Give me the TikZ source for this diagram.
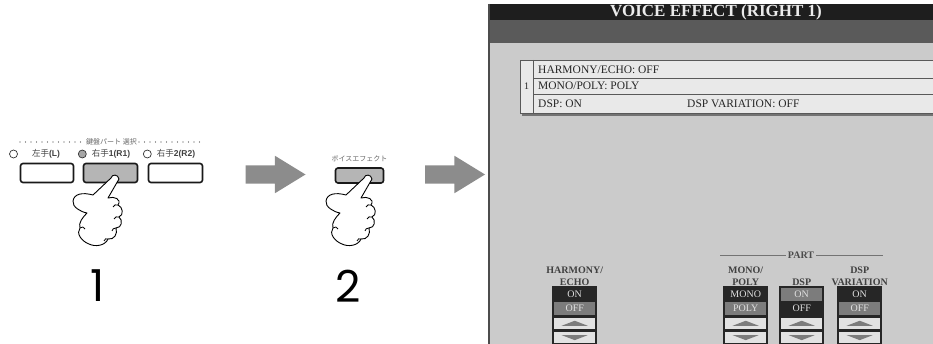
\documentclass[tikz,border=0pt]{standalone}
\usepackage{fontspec}
\setmainfont{Liberation Serif}
\newfontfamily\cjk{Noto Sans CJK JP}
\newfontfamily\labfont{Liberation Sans}
\newfontfamily\stepfont{Poppins}
\usepackage{xcolor}
\usepackage{tikz}
\usetikzlibrary{positioning, shapes.arrows, calc}

\definecolor{scrbg}{HTML}{CBCBCB}
\definecolor{scrtop}{HTML}{1E1E1E}
\definecolor{scrband}{HTML}{5A5A5A}
\definecolor{tblfill}{HTML}{E9E9E9}
\definecolor{keydark}{HTML}{262626}
\definecolor{keygray}{HTML}{7C7C7C}
\definecolor{keylight}{HTML}{E2E2E2}
\definecolor{arrgray}{HTML}{8C8C8C}
\definecolor{btngray}{HTML}{B5B5B5}

\tikzset{
  hand/.pic={
    \draw[fill=white, line width=0.9pt, line join=round]
      (-4,1) .. controls (-3,-3) and (3,-3) .. (4,2)
      -- (-7,21)
      .. controls (-1,19) and (7,22) .. (3,28)
      .. controls (8,30) and (9,38) .. (4,40)
      .. controls (8,43) and (7,51) .. (1,51)
      .. controls (3,57) and (-1,63) .. (-7,62)
      .. controls (-10,69) and (-20,70) .. (-26,67)
      .. controls (-34,64) and (-39,56) .. (-35,51)
      .. controls (-37,46) and (-32,40) .. (-28,36)
      .. controls (-34,35) and (-43,30) .. (-42,24)
      .. controls (-41,17) and (-33,15) .. (-22,18)
      -- cycle;
    % creases of the curled fingers
    \draw[line width=0.8pt] (3,28) .. controls (1,27) and (-1,28) .. (-2,30);
    \draw[line width=0.8pt] (4,40) .. controls (2,39) and (0,40) .. (-1,42);
    \draw[line width=0.8pt] (1,51) .. controls (-1,51) and (-3,52) .. (-3,54);
    \draw[line width=0.8pt] (-7,62) .. controls (-9,61) and (-10,62) .. (-11,64);
    \draw[line width=0.8pt] (-35,51) .. controls (-33,49) and (-31,50) .. (-30,52);
  }
}

\begin{document}
\begin{tikzpicture}[x=1pt, y=-1pt,
    panelbtn/.style={draw=black!90, line width=1.6pt, rounded corners=2.5pt, minimum height=19pt, inner sep=0pt},
    lamp/.style={circle, draw=black!80, fill=white, line width=0.7pt, minimum size=8pt, inner sep=0pt},
    keylabel/.style={font=\cjk\fontsize{8.5}{9}\selectfont, text=black!75, inner sep=1pt},
    dots/.style={black!75, line width=1.1pt, dash pattern=on 0pt off 5.5pt, line cap=round},
    blockarrow/.style={single arrow, fill=arrgray, inner xsep=0pt, inner ysep=9pt, minimum height=60pt, single arrow head extend=9.5pt, single arrow tip angle=63},
    stepnum/.style={font=\stepfont\fontsize{44}{44}\selectfont, inner sep=0pt},
    rowtext/.style={anchor=west, font=\fontsize{11.5}{11.5}\selectfont, text=black!85, inner sep=0pt},
    swrow/.style={minimum width=41pt, minimum height=13pt, inner sep=0pt, font=\fontsize{10}{10}\selectfont, text=black!12},
    swkey/.style={fill=keylight, minimum width=41pt, minimum height=10.5pt, inner sep=0pt},
    swlabel/.style={align=center, font=\bfseries\fontsize{10}{12.5}\selectfont, text=black!75, inner sep=0.5pt}
]
\useasboundingbox (0,0) rectangle (933,344);

% step 1: part select buttons
\node[panelbtn, minimum width=53pt] (btnL) at (47,173) {};
\node[panelbtn, minimum width=54pt, fill=btngray] (btnR1) at (110.5,173) {};
\node[panelbtn, minimum width=54pt] (btnR2) at (175.5,173) {};

\node[keylabel] (labL) at (46,154) {左手\labfont\bfseries(L)};
\node[keylabel] (labR1) at (111,154) {右手\labfont\bfseries1(R1)};
\node[keylabel] (labR2) at (176,154) {右手\labfont\bfseries2(R2)};
\node[lamp, left=13pt of labL] (lampL) {};
\node[lamp, left=4pt of labR1, fill=black!35] (lampR1) {};
\node[lamp, left=4pt of labR2] (lampR2) {};

\node[font=\cjk\fontsize{7}{7}\selectfont, text=black!60, inner sep=2pt] (selhead) at (111.5,142) {鍵盤パート 選択};
\coordinate (dotL) at (20,142);
\coordinate (dotR) at (204,142);
\draw[dots] (dotL) -- (selhead.west);
\draw[dots] (selhead.east) -- (dotR);

\pic at (115,177) {hand};
\node[stepnum] (step1) at (98,286) {1};

% step 2: voice effect button
\node[panelbtn, minimum width=48pt, minimum height=15pt, fill=btngray] (btnVE) at (359.5,175.5) {};
\node[font=\cjk\fontsize{7}{7}\selectfont, text=black!60, above=2pt of btnVE] (veLabel) {ボイスエフェクト};
\pic at (368,177) {hand};
\node[stepnum] (step2) at (348.5,286.5) {2};

% arrows between the steps
\node[blockarrow] (arr1) at (268,174.5) {};
\node[blockarrow] (arr2) at (447.5,174.5) {};

% screen
\fill[scrbg] (488,4) rectangle (933,344);
\fill[scrtop] (488,4) rectangle (933,20);
\fill[scrband] (488,20) rectangle (933,43);
\draw[black!70, line width=2pt] (489,4) -- (489,344);
\node[font=\bfseries\fontsize{17}{17}\selectfont, text=black!8, inner sep=0pt] (title) at (716,12) {VOICE EFFECT (RIGHT 1)};

% part table
\fill[black!55] (522,111) rectangle (933,116);
\draw[fill=tblfill, draw=black!65, line width=0.8pt] (520,60) rectangle (940,113);
\draw[black!65, line width=0.8pt] (533,60) -- (533,113);
\draw[black!65, line width=0.8pt] (533,78) -- (940,78);
\draw[black!65, line width=0.8pt] (533,94) -- (940,94);
\node[font=\fontsize{10}{10}\selectfont, text=black!85, inner sep=0pt] (partNo) at (526.5,86) {1};
\node[rowtext] (rowHarm) at (538,69.5) {HARMONY/ECHO: OFF};
\node[rowtext] (rowMono) at (538,86) {MONO/POLY: POLY};
\node[rowtext] (rowDsp) at (538,103.5) {DSP: ON};
\node[rowtext] (rowVar) at (687,103.5) {DSP VARIATION: OFF};

% part heading
\node[font=\bfseries\fontsize{10}{10}\selectfont, text=black!70, inner sep=2pt] (part) at (801,255) {PART};
\coordinate (partL) at (720,255);
\coordinate (partR) at (883,255);
\draw[black!55, line width=0.8pt] (partL) -- (part.west);
\draw[black!55, line width=0.8pt] (part.east) -- (partR);

% switches
\foreach \x/\ta/\tb/\ca/\cb [count=\i] in {552/ON/OFF/keydark/keygray, 723/MONO/POLY/keydark/keygray, 779/ON/OFF/keygray/keydark, 837/ON/OFF/keydark/keygray} {
  \fill[keydark] (\x,286) rectangle ++(45,60);
  \node[swrow, fill=\ca, anchor=north west] (sw\i-a) at (\x+2,287.5) {\ta};
  \node[swrow, fill=\cb, below=1pt of sw\i-a] (sw\i-b) {\tb};
  \node[swkey, below=2.5pt of sw\i-b] (sw\i-up) {};
  \node[swkey, below=3.5pt of sw\i-up] (sw\i-dn) {};
  \fill[keygray] ($(sw\i-up.center)+(-13,2.5)$) -- ++(26,0) -- ($(sw\i-up.center)+(0,-2.5)$) -- cycle;
  \fill[keygray] ($(sw\i-dn.center)+(-13,-2.5)$) -- ++(26,0) -- ($(sw\i-dn.center)+(0,2.5)$) -- cycle;
}

\node[swlabel, above=1pt of sw1-a] (lbHarm) {HARMONY/\\ECHO};
\node[swlabel, above=1pt of sw2-a] (lbMono) {MONO/\\POLY};
\node[swlabel, above=1pt of sw3-a] (lbDsp) {DSP};
\node[swlabel, above=1pt of sw4-a] (lbVar) {DSP\\VARIATION};

\end{tikzpicture}
\end{document}
